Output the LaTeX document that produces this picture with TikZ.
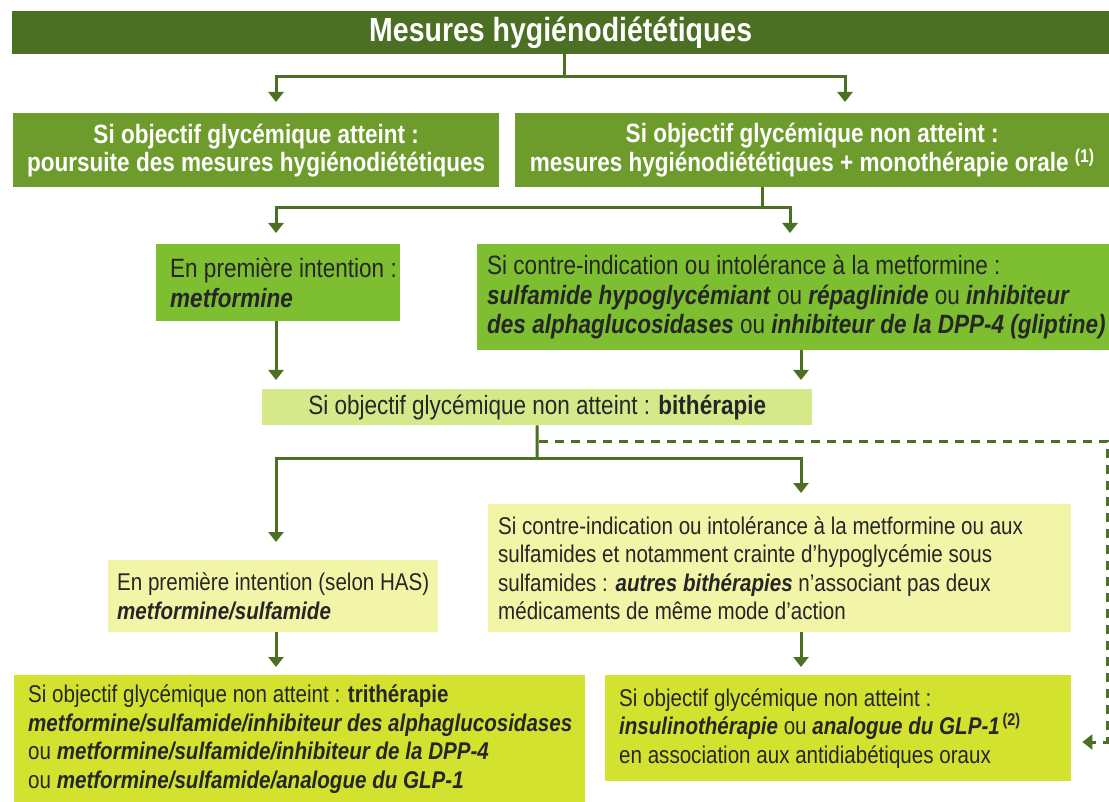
\documentclass[tikz,border=0pt]{standalone}
\usepackage{fontspec}
\setmainfont{Liberation Sans}[FakeStretch=0.85]
\usetikzlibrary{arrows.meta}
\definecolor{vertfonce}{HTML}{4B6F23}
\definecolor{vertolive}{HTML}{6E9C2C}
\definecolor{vertvif}{HTML}{7DBF31}
\definecolor{vertpale}{HTML}{D5E98A}
\definecolor{jaunepale}{HTML}{F2F5A8}
\definecolor{jaunevert}{HTML}{D3E22F}
\definecolor{texte}{HTML}{262626}
\newcommand{\medoc}[1]{\textbf{\textit{#1}}}

\begin{document}
\begin{tikzpicture}[x=1pt, y=-1pt]
  % styles
  \tikzset{
    boite/.style={anchor=north west, inner ysep=0pt, align=flush left, text=texte,
      font=\fontsize{26.5}{29.5}\selectfont},
    petite/.style={font=\fontsize{24.2}{28.5}\selectfont},
    blanche/.style={boite, align=center, text=white, fill=vertolive,
      font=\fontsize{26.5}{28}\selectfont\bfseries, minimum height=74pt},
    trait/.style={draw=vertfonce, line width=3pt},
    fleche/.style={trait, shorten >=11pt, -{Triangle[width=15pt,length=10pt]}},
    pointille/.style={fleche, dash pattern=on 9pt off 7pt}
  }
  \useasboundingbox (0,0) rectangle (1109,802);
  % boites
  \node[boite, align=center, fill=vertfonce, text=white, inner sep=0pt,
    minimum width=1097pt, minimum height=43pt,
    font=\fontsize{33.5}{36}\selectfont\bfseries] (titre) at (12,11) {Mesures hygiénodiététiques};
  \node[blanche, minimum width=486pt] (atteint) at (13,113)
    {Si objectif glycémique atteint :\\ poursuite des mesures hygiénodiététiques};
  \node[blanche, minimum width=594pt] (nonatteint) at (515,113)
    {Si objectif glycémique non atteint :\\ mesures hygiénodiététiques + monothérapie orale \textsuperscript{(1)}};
  \node[boite, fill=vertvif, inner xsep=14pt, text width=216pt, minimum height=77pt] (metformine) at (156,244)
    {\mbox{En première intention :}\\ \medoc{metformine}};
  \node[boite, fill=vertvif, inner xsep=10pt, text width=640pt, minimum height=106pt] (contreind) at (477,244)
    {Si contre-indication ou intolérance à la metformine :\\
     \medoc{sulfamide hypoglycémiant} ou \medoc{répaglinide} ou \medoc{inhibiteur}\\
     \medoc{des alphaglucosidases} ou \medoc{inhibiteur de la DPP-4 (gliptine)}};
  \node[boite, align=center, fill=vertpale, minimum width=550pt, minimum height=36pt] (bitherapie) at (262,389)
    {Si objectif glycémique non atteint : \textbf{bithérapie}};
  \node[boite, petite, fill=jaunepale, inner xsep=9pt, text width=312pt, minimum height=72pt] (selonhas) at (108,560)
    {\mbox{En première intention (selon HAS)}\\ \medoc{metformine/sulfamide}};
  \node[boite, petite, fill=jaunepale, inner xsep=10pt, text width=563pt, minimum height=128pt] (autresbi) at (488,504)
    {Si contre-indication ou intolérance à la metformine ou aux\\
     sulfamides et notamment crainte d'hypoglycémie sous\\
     sulfamides : \medoc{autres bithérapies} n'associant pas deux\\
     médicaments de même mode d'action};
  \node[boite, petite, fill=jaunevert, inner xsep=14pt, text width=543pt, minimum height=128pt] (trith) at (14,675)
    {Si objectif glycémique non atteint : \textbf{trithérapie}\\
     \mbox{\medoc{metformine/sulfamide/inhibiteur des alphaglucosidases}}\\
     ou \medoc{metformine/sulfamide/inhibiteur de la DPP-4}\\
     ou \medoc{metformine/sulfamide/analogue du GLP-1}};
  \node[boite, petite, fill=jaunevert, inner xsep=14pt, text width=438pt, minimum height=106pt] (insuline) at (605,675)
    {Si objectif glycémique non atteint :\\
     \medoc{insulinothérapie} ou \medoc{analogue du GLP-1}\textsuperscript{\,\textbf{(2)}}\\
     en association aux antidiabétiques oraux};
  % colonnes des fleches
  \coordinate (g) at (276,0);
  \coordinate (d) at (801,0);
  \coordinate (b) at (845,0);
  \coordinate (m) at (790,0);
  % titre -> premier choix
  \coordinate (n1) at (564,77);
  \draw[trait] (titre.south -| n1) -- (n1);
  \draw[fleche] (n1) -| (atteint.north -| g);
  \draw[fleche] (n1) -| (nonatteint.north -| b);
  % monotherapie
  \coordinate (n2) at (762,208);
  \draw[trait] (nonatteint.south -| n2) -- (n2);
  \draw[fleche] (n2) -| (metformine.north -| g);
  \draw[fleche] (n2) -| (contreind.north -| m);
  \draw[fleche, shorten >=9pt] (metformine.south -| g) -- (bitherapie.north -| g);
  \draw[fleche, shorten >=9pt] (contreind.south -| d) -- (bitherapie.north -| d);
  % bitherapie
  \coordinate (n3) at (537,458);
  \draw[trait] (bitherapie.south) -- (n3);
  \draw[fleche, shorten >=18pt] (n3) -| (selonhas.north -| g);
  \draw[fleche] (n3) -| (autresbi.north -| d);
  \draw[fleche, shorten >=8pt] (selonhas.south -| g) -- (trith.north -| g);
  \draw[fleche, shorten >=8pt] (autresbi.south -| d) -- (insuline.north -| d);
  % pointilles vers insuline
  \coordinate (p1) at (539,441);
  \coordinate (p2) at (1107,441);
  \coordinate (p3) at (1107,742);
  \draw[pointille] (p1) -- (p2) -- (p3) -- (insuline.east |- p3);
\end{tikzpicture}
\end{document}
